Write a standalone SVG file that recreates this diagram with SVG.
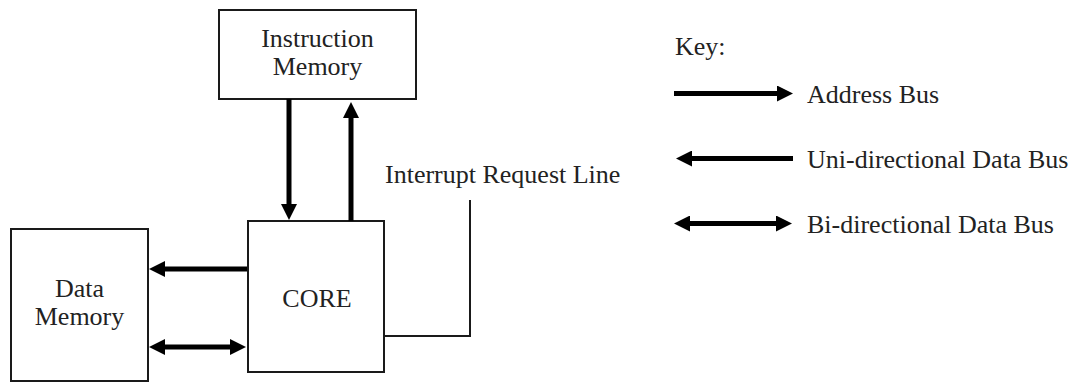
<svg xmlns="http://www.w3.org/2000/svg" width="1081" height="383" viewBox="0 0 1081 383">
  <style>
    .box { fill: #ffffff; stroke: #1a1a1a; stroke-width: 2; }
    .label { font-family: 'Liberation Serif', 'DejaVu Serif', serif; font-size: 26px; fill: #222222; }
    .mid { text-anchor: middle; }
    .bus { stroke: #000000; stroke-width: 5; fill: none; }
    .wire { stroke: #1a1a1a; stroke-width: 2; fill: none; }
  </style>
  <defs>
    <marker id="head" viewBox="0 0 16 16" refX="1" refY="8" markerWidth="16" markerHeight="16" markerUnits="userSpaceOnUse" orient="auto-start-reverse">
      <path d="M0,0 L16,8 L0,16 Z" fill="#000000"/>
    </marker>
  </defs>
  <rect width="1081" height="383" fill="#ffffff"/>

  <g id="instruction-memory">
    <rect class="box" x="219" y="10" width="197" height="89"/>
    <text class="label mid" x="317.5" y="47">Instruction</text>
    <text class="label mid" x="317.5" y="75">Memory</text>
  </g>

  <g id="data-memory">
    <rect class="box" x="11" y="229" width="137" height="152"/>
    <text class="label mid" x="79.5" y="297">Data</text>
    <text class="label mid" x="79.5" y="325">Memory</text>
  </g>

  <g id="core">
    <rect class="box" x="248" y="221" width="136" height="151"/>
    <text class="label mid" x="317" y="307">CORE</text>
  </g>

  <g id="connectors">
    <!-- instruction fetch: address up, data down -->
    <line class="bus" x1="289" y1="99" x2="289" y2="205" marker-end="url(#head)"/>
    <line class="bus" x1="351" y1="221" x2="351" y2="117" marker-end="url(#head)"/>
    <!-- data memory buses -->
    <line class="bus" x1="247" y1="269" x2="164" y2="269" marker-end="url(#head)"/>
    <line class="bus" x1="164" y1="347" x2="231" y2="347" marker-start="url(#head)" marker-end="url(#head)"/>
    <!-- interrupt request line -->
    <polyline class="wire" points="384,336 470,336 470,200"/>
  </g>

  <g id="interrupt-label">
    <text class="label" x="385" y="183">Interrupt Request Line</text>
  </g>

  <g id="key">
    <text class="label" x="675" y="55">Key:</text>
    <line class="bus" x1="674" y1="93.5" x2="778" y2="93.5" marker-end="url(#head)"/>
    <text class="label" x="807" y="103">Address Bus</text>
    <line class="bus" x1="793" y1="158.5" x2="691" y2="158.5" marker-end="url(#head)"/>
    <text class="label" x="807" y="168">Uni-directional Data Bus</text>
    <line class="bus" x1="689" y1="223.5" x2="777" y2="223.5" marker-start="url(#head)" marker-end="url(#head)"/>
    <text class="label" x="807" y="233">Bi-directional Data Bus</text>
  </g>
</svg>
